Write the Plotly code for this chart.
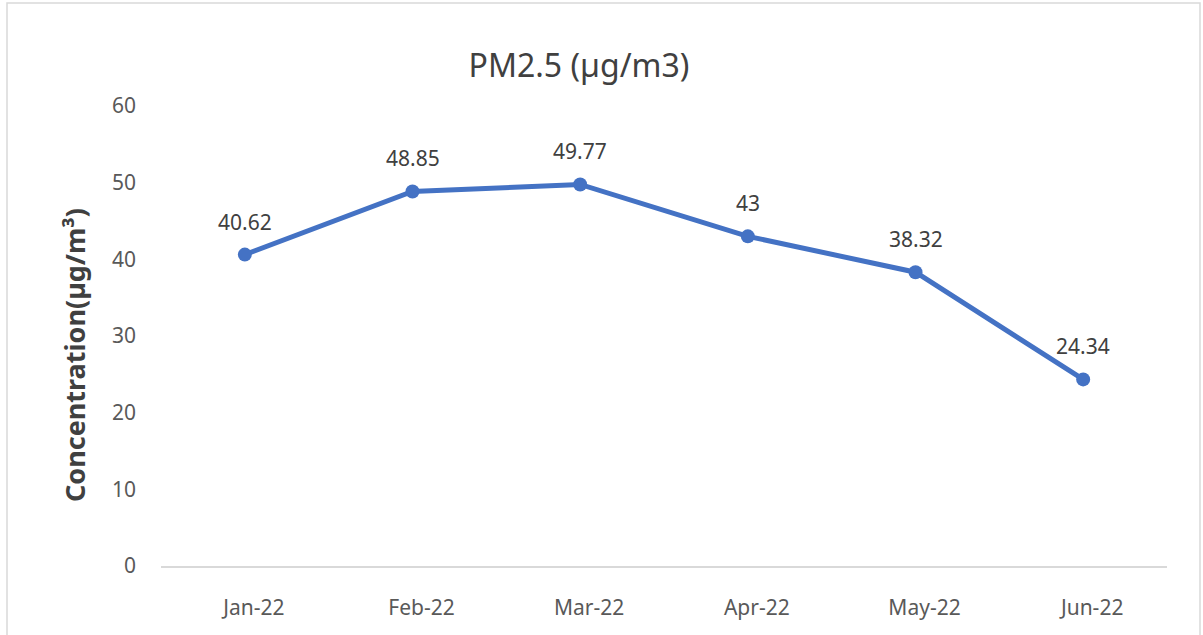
import plotly.graph_objects as go

months = ["Jan-22", "Feb-22", "Mar-22", "Apr-22", "May-22", "Jun-22"]
pm25 = [40.62, 48.85, 49.77, 43, 38.32, 24.34]
labels = ["40.62", "48.85", "49.77", "43", "38.32", "24.34"]
y_ticks = [0, 10, 20, 30, 40, 50, 60]

W, H = 1203, 635
L, R, T, B = 161, 36, 106, 69
pw, ph = W - L - R, H - T - B

def px_to_paper_x(px):
    return (px - L) / pw

def px_to_paper_y(py):
    return (H - B - py) / ph

fig = go.Figure()
fig.add_trace(go.Scatter(
    x=months, y=pm25, mode="lines+markers",
    line=dict(color="#4472C4", width=5),
    marker=dict(color="#4472C4", size=14),
    cliponaxis=False, hoverinfo="skip",
))

for m, v, t in zip(months, pm25, labels):
    fig.add_annotation(
        x=m, y=v, text=t, showarrow=False, yshift=33,
        xanchor="center", yanchor="middle",
        font=dict(family="Noto Sans", size=21, color="#404040"),
    )

fig.update_layout(
    width=W, height=H,
    margin=dict(l=L, r=R, t=T, b=B),
    paper_bgcolor="white", plot_bgcolor="white",
    showlegend=False,
    font=dict(family="Noto Sans", color="#595959"),
    title=dict(text="PM2.5 (µg/m3)", x=px_to_paper_x(579), xref="paper", xanchor="center",
               y=1 - 66 / H, yanchor="middle",
               font=dict(family="Noto Sans", size=32, color="#404040")),
    xaxis=dict(type="category", categoryorder="array", categoryarray=months,
               range=[-0.5, 5.5], showgrid=False, zeroline=False,
               showline=True, linecolor="#D9D9D9", linewidth=1.5,
               ticks="", tickfont=dict(size=21, color="#595959"),
               ticklabelstandoff=22, ticklabelshift=9),
    yaxis=dict(range=[0, 60], tickvals=y_ticks, showgrid=False, zeroline=False,
               showline=False, ticks="", tickfont=dict(size=21, color="#595959"),
               ticklabelstandoff=24),
)

fig.add_annotation(
    text="<b>Concentration(µg/m³)</b>", textangle=-90,
    xref="paper", yref="paper",
    x=px_to_paper_x(74), y=px_to_paper_y(355),
    xanchor="center", yanchor="middle", showarrow=False,
    font=dict(family="Noto Sans", size=27, color="#404040"),
)

fig.add_shape(
    type="rect", xref="paper", yref="paper",
    x0=px_to_paper_x(7), x1=px_to_paper_x(1200),
    y0=px_to_paper_y(640), y1=px_to_paper_y(3),
    line=dict(color="#D9D9D9", width=1.5), fillcolor="rgba(0,0,0,0)", layer="below",
)

fig.write_html("out.html", config={"displayModeBar": False},
               post_script="document.body.style.margin='0';document.body.style.overflow='hidden';")
